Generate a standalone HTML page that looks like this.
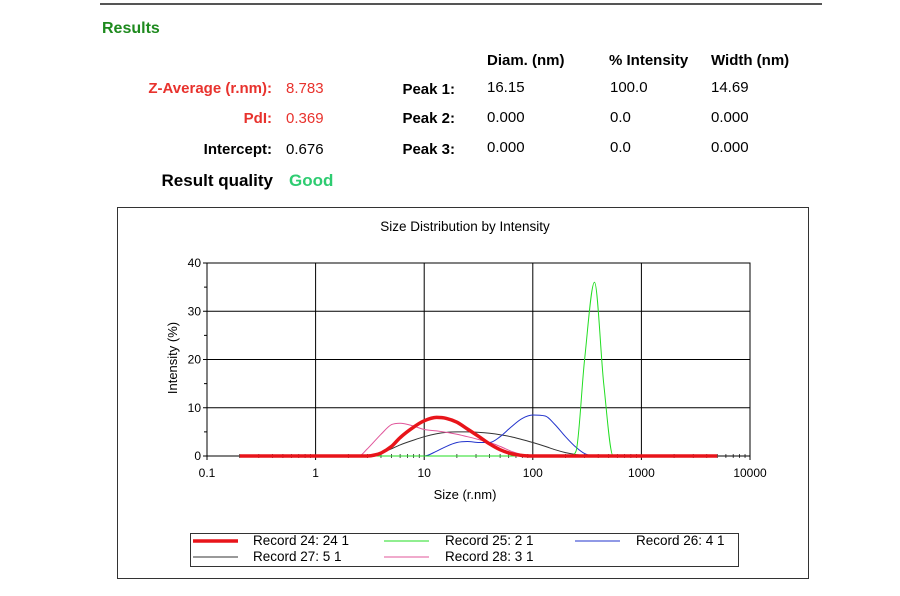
<!DOCTYPE html>
<html><head><meta charset="utf-8">
<style>
body{margin:0;background:#fff;width:900px;height:596px;overflow:hidden;font-family:"Liberation Sans",sans-serif;}
.t{position:absolute;white-space:nowrap;}
.b{font-weight:bold;}
.r{color:#e8322d;}
.f{font-size:15px;}
</style></head><body>
<div style="position:absolute;left:100px;top:3px;width:722px;height:2px;background:#555"></div>
<div class="t b" style="left:102px;top:20px;font-size:16px;color:#1e8a1e">Results</div>
<div class="t b f" style="left:487px;top:52px">Diam. (nm)</div>
<div class="t b f" style="left:609px;top:52px">% Intensity</div>
<div class="t b f" style="left:711px;top:52px">Width (nm)</div>

<div class="t b r f" style="right:628px;top:80px">Z-Average (r.nm):</div>
<div class="t r f" style="left:286px;top:80px">8.783</div>
<div class="t b r f" style="right:628px;top:110px">PdI:</div>
<div class="t r f" style="left:286px;top:110px">0.369</div>
<div class="t b f" style="right:628px;top:141px">Intercept:</div>
<div class="t f" style="left:286px;top:141px">0.676</div>
<div class="t b" style="right:627px;top:171px;font-size:17px">Result quality</div>
<div class="t b" style="left:289px;top:171px;font-size:17px;color:#2ecc71">Good</div>

<div class="t b f" style="right:445px;top:81px">Peak 1:</div>
<div class="t f" style="left:487px;top:79px">16.15</div>
<div class="t f" style="left:610px;top:79px">100.0</div>
<div class="t f" style="left:711px;top:79px">14.69</div>
<div class="t b f" style="right:445px;top:110px">Peak 2:</div>
<div class="t f" style="left:487px;top:109px">0.000</div>
<div class="t f" style="left:610px;top:109px">0.0</div>
<div class="t f" style="left:711px;top:109px">0.000</div>
<div class="t b f" style="right:445px;top:141px">Peak 3:</div>
<div class="t f" style="left:487px;top:139px">0.000</div>
<div class="t f" style="left:610px;top:139px">0.0</div>
<div class="t f" style="left:711px;top:139px">0.000</div>

<svg id="chart" style="position:absolute;left:0;top:0" width="900" height="596" font-family="Liberation Sans, sans-serif">
<rect x="117.5" y="207.5" width="691" height="371" fill="none" stroke="#333" stroke-width="1"/>
<text x="465" y="231" font-size="13.5" text-anchor="middle">Size Distribution by Intensity</text>
<text x="465" y="499" font-size="13" text-anchor="middle">Size (r.nm)</text>
<text transform="translate(177,358) rotate(-90)" font-size="13" text-anchor="middle">Intensity (%)</text>
<g id="grid"></g><g id="series"></g>
<rect x="190.5" y="533.5" width="548" height="33" fill="none" stroke="#333"/>
<g id="legend" font-size="13.5"></g>
</svg>
<script>
const xTicks=[0.1,1,10,100,1000,10000];
const xTickLabels=["0.1","1","10","100","1000","10000"];
const yTicks=[0,10,20,30,40];
const seriesNames=["Record 24: 24 1","Record 25: 2 1","Record 26: 4 1","Record 27: 5 1","Record 28: 3 1"];
const r24Size=[0.2,3,3.5,4,5,6,8,10,13,16,20,25,32,40,50,63,80,100,130,5000];
const r24Val=[0,0,0.2,0.6,2,3.8,6,7.3,8,7.8,7,5.6,4,2.5,1.3,0.5,0.1,0,0,0];
const r25Size=[0.2,220,250,300,370,450,550,700,5000];
const r25Val=[0,0,1,20,36,15,0,0,0];
const r26Size=[0.2,10,13,16,20,25,32,40,50,63,80,100,130,160,200,250,300,370,5000];
const r26Val=[0,0,1,2,2.8,3,2.8,2.8,4,6,7.8,8.5,8.3,6.5,4,1.8,0.5,0,0];
const r27Size=[0.2,2.5,3,4,5,6,8,10,13,16,20,25,32,40,50,63,80,100,130,160,200,250,300,370,5000];
const r27Val=[0,0,0.1,0.6,1.5,2.3,3.3,4,4.6,4.9,5,5,4.9,4.7,4.4,4,3.4,2.8,2,1.3,0.7,0.3,0.1,0,0];
const r28Size=[0.2,2.5,3,4,5,6,8,10,13,16,20,25,32,40,50,63,80,100,5000];
const r28Val=[0,0,1.5,4.5,6.5,6.8,6.2,5.5,5.2,4.9,4.5,4,3.4,2.8,2,1,0.3,0,0];
const seriesColors=["#e8141a","#22dd22","#2233cc","#333333","#e0559a"];
const seriesWidths=[3.5,1,1,1,1];

const L=207,R=750,T=263,B=456;
const xs=v=>L+(Math.log10(v)+1)/5*(R-L);
const ys=v=>B-v/40*(B-T);
const NS="http://www.w3.org/2000/svg";
function mk(tag,attrs,parent){const e=document.createElementNS(NS,tag);for(const k in attrs)e.setAttribute(k,attrs[k]);parent.appendChild(e);return e;}
const grid=document.getElementById('grid');
mk('rect',{x:L,y:T,width:R-L,height:B-T,fill:'none',stroke:'#000','stroke-width':1},grid);
xTicks.forEach((t,i)=>{
  const l=mk('line',{x1:xs(t),x2:xs(t),y1:T,y2:B+4,stroke:'#000','stroke-width':1},grid);
  
  
  const tx=mk('text',{x:xs(t),y:B+21,'font-size':12,'text-anchor':'middle'},grid);
  tx.textContent=xTickLabels[i];
  
  
  if(i<xTicks.length-1)for(let m=2;m<10;m++){mk('line',{x1:xs(t*m),x2:xs(t*m),y1:B-2,y2:B+2,stroke:'#000','stroke-width':0.7},grid);}
});
yTicks.forEach((t,i)=>{
  const l=mk('line',{x1:L-4,x2:R,y1:ys(t),y2:ys(t),stroke:'#000','stroke-width':1},grid);
  
  
  if(i<yTicks.length-1)mk('line',{x1:L-3,x2:L,y1:ys(t+5),y2:ys(t+5),stroke:'#000'},grid);
  const tx=mk('text',{x:L-6,y:ys(t)+4,'font-size':12,'text-anchor':'end'},grid);
  tx.textContent=String(t);
  
  
});
function monoPath(px,py){
  const n=px.length,d=[],m=new Array(n).fill(0);
  for(let i=0;i<n-1;i++)d.push((py[i+1]-py[i])/(px[i+1]-px[i]));
  for(let i=1;i<n-1;i++){m[i]=(d[i-1]*d[i]<=0)?0:(d[i-1]+d[i])/2;}
  m[0]=d[0];m[n-1]=d[n-2];
  for(let i=0;i<n-1;i++){
    if(d[i]===0){m[i]=0;m[i+1]=0;continue;}
    const a=m[i]/d[i],b=m[i+1]/d[i],s=a*a+b*b;
    if(s>9){const t=3/Math.sqrt(s);m[i]=t*a*d[i];m[i+1]=t*b*d[i];}
  }
  let p='M'+px[0].toFixed(1)+','+py[0].toFixed(1);
  for(let i=0;i<n-1;i++){
    const h=(px[i+1]-px[i])/3;
    p+=' C'+(px[i]+h).toFixed(1)+','+(py[i]+m[i]*h).toFixed(1)+' '+(px[i+1]-h).toFixed(1)+','+(py[i+1]-m[i+1]*h).toFixed(1)+' '+px[i+1].toFixed(1)+','+py[i+1].toFixed(1);
  }
  return p;
}
const sg=document.getElementById('series');
const allSizes=[r24Size,r25Size,r26Size,r27Size,r28Size],allVals=[r24Val,r25Val,r26Val,r27Val,r28Val];
const order=[3,4,2,1,0];
order.forEach(i=>{
  const p=mk('path',{d:monoPath(allSizes[i].map(xs),allVals[i].map(ys)),fill:'none',stroke:seriesColors[i],'stroke-width':seriesWidths[i]},sg);
  
  
});
const lg=document.getElementById('legend');
const lpos=[[193,541,253],[384,541,445],[575,541,636],[193,557,253],[384,557,445]];
seriesNames.forEach((n,i)=>{
  const [lx,ly,tx0]=lpos[i];
  const l=mk('line',{x1:lx,x2:lx+45,y1:ly,y2:ly,stroke:seriesColors[i],'stroke-width':seriesWidths[i]},lg);
  
  
  const t=mk('text',{x:tx0,y:ly+4},lg);
  t.textContent=n;
  
  
});
</script>
</body></html>
